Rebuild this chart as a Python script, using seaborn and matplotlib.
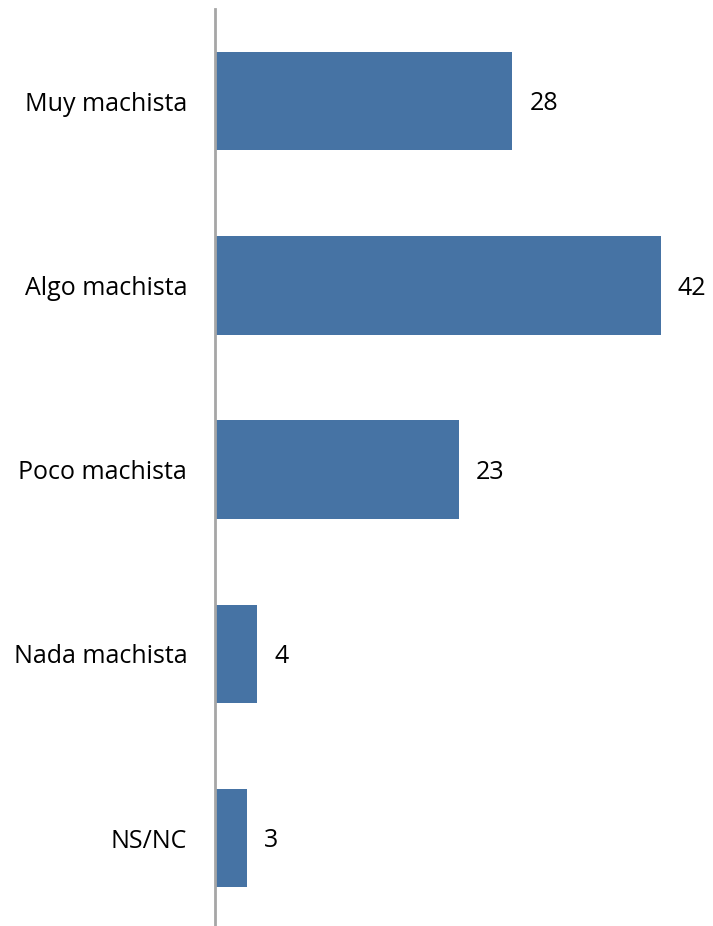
import pandas as pd
import seaborn as sns
import matplotlib.pyplot as plt

categories = ['Muy machista', 'Algo machista', 'Poco machista', 'Nada machista', 'NS/NC']
values = [28, 42, 23, 4, 3]

df = pd.DataFrame({'cat': categories, 'val': values})

sns.set_style('white')
plt.rcParams['font.family'] = ['Open Sans', 'DejaVu Sans']

fig = plt.figure(figsize=(7.13, 9.26), dpi=100)
ax = fig.add_axes([215 / 713, 0.0, 1 - 215 / 713, 917 / 926])

sns.barplot(data=df, x='val', y='cat', color='#4673A4', width=0.535,
            saturation=1, linewidth=0, ax=ax)

ax.set_xlim(0, (713 - 214) / 10.64)
ax.set_ylim((926 - 101) / 184.25, -0.5)

for i, v in enumerate(values):
    ax.text(v + 1.6, i + 0.015, str(v), va='center', ha='left', fontsize=18, color='black')

for s in ['top', 'right', 'bottom']:
    ax.spines[s].set_visible(False)
ax.spines['left'].set_color('#A6A6A6')
ax.spines['left'].set_linewidth(2)

ax.set_xticks([])
ax.set_xlabel('')
ax.set_ylabel('')
ax.tick_params(axis='y', length=0, pad=20, labelsize=18, labelcolor='black')

fig.savefig('out.png', dpi=100)
